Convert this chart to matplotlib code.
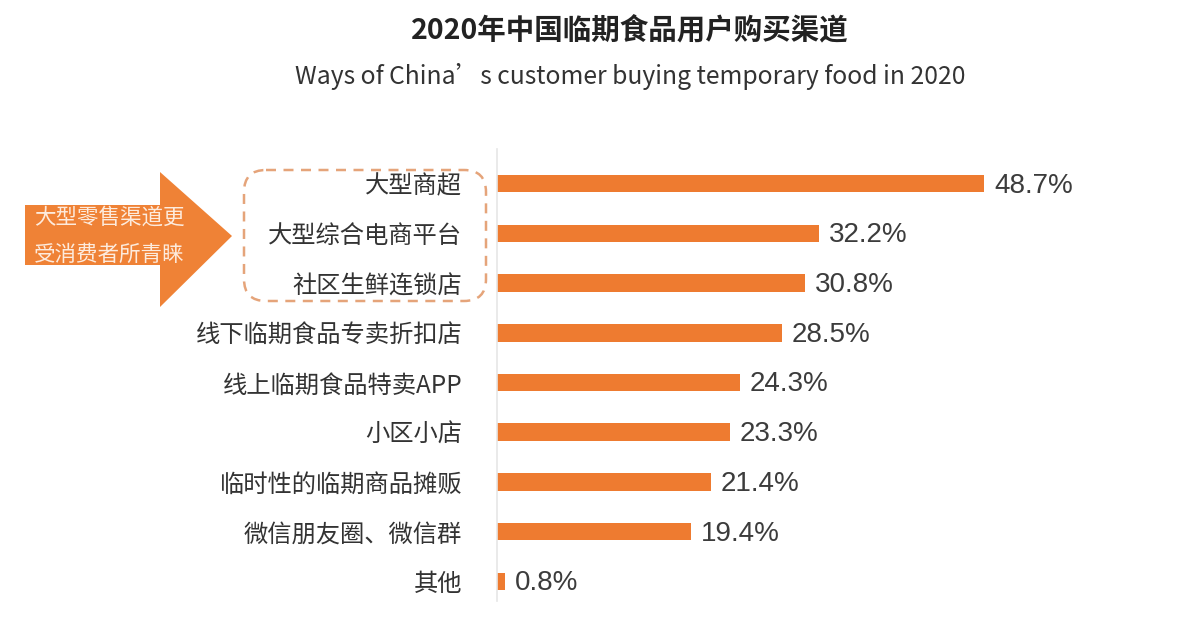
import matplotlib
matplotlib.use("Agg")
import matplotlib.pyplot as plt
from matplotlib.patches import Polygon, FancyBboxPatch

plt.rcParams['font.family'] = ['Noto Sans CJK SC', 'DejaVu Sans']

# data
channels = ['大型商超', '大型综合电商平台', '社区生鲜连锁店', '线下临期食品专卖折扣店',
            '线上临期食品特卖APP', '小区小店', '临时性的临期商品摊贩',
            '微信朋友圈、微信群', '其他']
shares = [48.7, 32.2, 30.8, 28.5, 24.3, 23.3, 21.4, 19.4, 0.8]

title = '2020年中国临期食品用户购买渠道'
subtitle = 'Ways of China’s customer buying temporary food in 2020'
callout = ['大型零售渠道更', '受消费者所青睐']

orange = '#EE7B30'

W, H = 1200, 634
fig = plt.figure(figsize=(W / 100, H / 100), dpi=100)
fig.patch.set_facecolor('white')

# bar axes, placed in pixel terms
left, right, top, bottom = 497, 1097, 154, 611
ax = fig.add_axes([left / W, 1 - bottom / H, (right - left) / W, (bottom - top) / H])
y = list(range(len(channels)))
ax.barh(y, shares, height=0.35, color=orange, zorder=2)
ax.set_xlim(0, 60)
ax.set_ylim(len(channels) - 0.4, -0.6)
for yi, v in zip(y, shares):
    ax.text(v + 1.0, yi + 0.04, f'{v}%', va='center', ha='left', fontsize=20,
            color='#3c3c3c', family=['Liberation Sans', 'DejaVu Sans'])
ax.set_yticks(y)
ax.set_yticklabels(channels, fontsize=17.5, color='#333333')
ax.tick_params(axis='y', length=0, pad=25)
ax.set_xticks([])
for s in ['top', 'right', 'bottom']:
    ax.spines[s].set_visible(False)
ax.spines['left'].set_color('#e6e6e6')
ax.spines['left'].set_linewidth(1.2)
ax.spines['left'].set_bounds(len(channels) - 0.6, -0.7)

# titles
fig.text(630 / W, 1 - 30 / H, title, ha='center', va='center', fontsize=20.5,
         fontweight='bold', color='#222222')
fig.text(630 / W, 1 - 77 / H, subtitle, ha='center', va='center', fontsize=17.8,
         color='#333333')

# overlay in pixel coordinates for callout arrow and dashed box
ov = fig.add_axes([0, 0, 1, 1])
ov.set_xlim(0, W)
ov.set_ylim(H, 0)
ov.axis('off')
ov.patch.set_alpha(0)

arrow = Polygon([(25, 205), (160, 205), (160, 172), (232, 236), (160, 307),
                 (160, 265), (25, 265)], closed=True, facecolor='#EF8236',
                edgecolor='none')
ov.add_patch(arrow)
ov.text(34, 218, callout[0], ha='left', va='center', fontsize=15.5, color='#FDEBDD')
ov.text(34, 255, callout[1], ha='left', va='center', fontsize=15.5, color='#FDEBDD')

box = FancyBboxPatch((244, 170), 242, 131, boxstyle='round,pad=0,rounding_size=22',
                     facecolor='none', edgecolor='#E5A47A', linewidth=1.8,
                     linestyle=(0, (4, 3)))
ov.add_patch(box)

fig.savefig('out.png', dpi=100, facecolor='white')
